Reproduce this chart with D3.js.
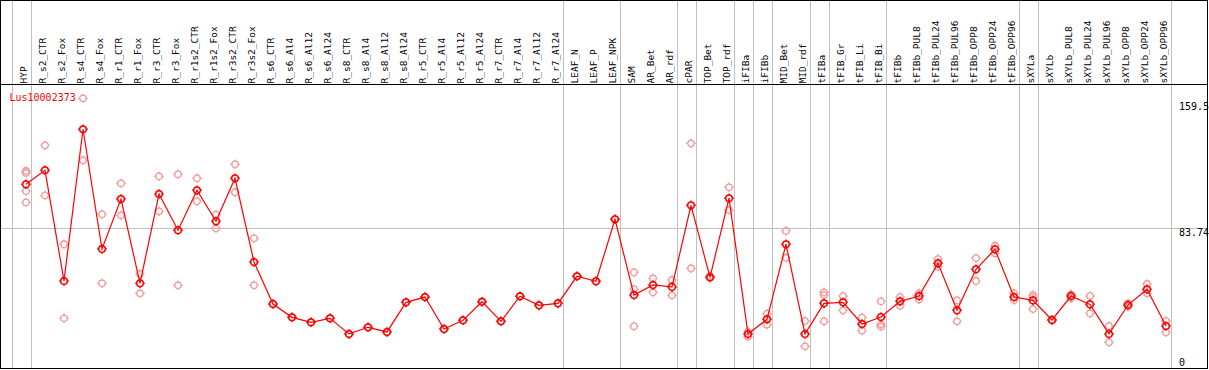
<!DOCTYPE html>
<html>
<head>
<meta charset="utf-8">
<script src="https://cdn.jsdelivr.net/npm/d3@7"></script>
<style>
  body { margin: 0; background: #fff; }
  svg { display: block; }
  text { font-family: "DejaVu Sans Mono", "Liberation Mono", monospace; }
</style>
</head>
<body>
<svg width="1209" height="370"></svg>
<script>
const title = 'Lus10002373';

const categories = [
  'HYP', 'R_s2_CTR', 'R_s2_Fox', 'R_s4_CTR', 'R_s4_Fox', 'R_r1_CTR', 'R_r1_Fox',
  'R_r3_CTR', 'R_r3_Fox', 'R_r1s2_CTR', 'R_r1s2_Fox', 'R_r3s2_CTR', 'R_r3s2_Fox',
  'R_s6_CTR', 'R_s6_Al4', 'R_s6_Al12', 'R_s6_Al24', 'R_s8_CTR', 'R_s8_Al4',
  'R_s8_Al12', 'R_s8_Al24', 'R_r5_CTR', 'R_r5_Al4', 'R_r5_Al12', 'R_r5_Al24',
  'R_r7_CTR', 'R_r7_Al4', 'R_r7_Al12', 'R_r7_Al24', 'LEAF_N', 'LEAF_P', 'LEAF_NPK',
  'SAM', 'AR_Bet', 'AR_rdf', 'cPAR', 'TOP_Bet', 'TOP_rdf', 'iFIBa', 'iFIBb',
  'MID_Bet', 'MID_rdf', 'tFIBa', 'tFIB_Gr', 'tFIB_Li', 'tFIB_Bi', 'tFIBb',
  'tFIBb_PUL8', 'tFIBb_PUL24', 'tFIBb_PUL96', 'tFIBb_OPP8', 'tFIBb_OPP24', 'tFIBb_OPP96',
  'sXYLa', 'sXYLb', 'sXYLb_PUL8', 'sXYLb_PUL24', 'sXYLb_PUL96', 'sXYLb_OPP8',
  'sXYLb_OPP24', 'sXYLb_OPP96'
];

const means = [
  110.3, 118.7, 52.1, 143.4, 71.3, 101.4, 50.7, 104.4, 82.6, 106.7, 88.0, 113.9, 63.5,
  38.2, 30.2, 27.2, 29.6, 20.2, 24.2, 21.4, 39.2, 42.4, 23.2, 28.4, 39.6, 27.8, 42.9,
  37.4, 38.6, 54.9, 51.9, 89.2,
  43.6, 49.7, 48.5, 97.6, 54.3, 101.9, 20.2, 29.0, 74.2, 20.2, 38.6, 39.2, 26.2, 30.4,
  39.8, 43.0, 62.7, 34.4, 59.1, 71.1, 42.4, 40.4, 28.6, 43.0, 38.0, 20.2, 37.6, 47.1, 25.0
];

const replicates = [
  [118.3, 117.1, 106.2, 99.4], [133.7, 103.6], [74.2, 29.6], [162.0, 124.7],
  [92.2, 50.7], [110.9, 91.6], [56.3, 44.7], [115.1, 94.0], [116.3, 49.5],
  [113.9, 100.0], [92.0, 83.8], [122.3, 105.5], [77.8, 49.5],
  [38.2], [30.2], [27.2], [29.6], [20.2], [24.2], [21.4], [39.2], [42.4], [23.2],
  [28.4], [39.6], [27.8], [42.9], [37.4], [38.6], [54.9], [51.9], [89.2],
  [57.3, 47.2, 24.8], [53.7, 45.3], [52.7, 43.5], [134.9, 59.7], [53.9, 55.1],
  [108.5, 94.8], [21.5, 18.5], [32.4, 25.8], [82.2, 66.1], [28.0, 12.8],
  [45.3, 43.6, 27.8], [43.0, 34.4], [30.0, 22.2], [39.8, 26.0, 24.6], [42.4, 37.2],
  [44.7, 41.0], [65.3, 60.7], [40.4, 27.8], [65.9, 52.1], [73.3, 68.7], [44.7, 40.6],
  [43.6, 42.4, 35.2], [28.8, 28.4], [44.1, 41.7], [43.0, 32.6], [25.0, 15.2],
  [38.6, 36.6], [50.3, 44.7], [28.0, 21.2]
];

// first category of each group (a grey separator is drawn before it)
const groupStarts = [
  'HYP', 'R_s2_CTR', 'LEAF_N', 'SAM', 'cPAR', 'TOP_Bet', 'iFIBa', 'iFIBb',
  'MID_Bet', 'tFIBa', 'tFIB_Gr', 'tFIBb', 'sXYLa', 'sXYLb'
];

const yMax = 159.5;
const gridValues = [83.74];
const axisLabels = [159.5, 83.74, 0];

const svg = d3.select('svg'),
  width = +svg.attr('width'),
  height = +svg.attr('height'),
  headerH = 84.5,
  bottom = 368.5,
  right = 1207.5;

const xScale = d3.scalePoint().domain(categories).range([26, 1166]);
const step = xScale.step();
const yScale = d3.scaleLinear().domain([0, yMax]).range([367.5, 102.5]);

const sepX = (c) => xScale(c) - step * 0.75;
const plotRight = xScale(categories[categories.length - 1]) + step * 0.25;

// grey separators and grid
svg.append('g')
  .selectAll('line')
  .data(groupStarts)
  .enter()
  .append('line')
  .attr('x1', (d) => Math.round(sepX(d)) + 0.5)
  .attr('x2', (d) => Math.round(sepX(d)) + 0.5)
  .attr('y1', 0)
  .attr('y2', bottom)
  .attr('stroke', '#c0c0c0');

svg.append('line')
  .attr('x1', Math.round(plotRight) + 0.5)
  .attr('x2', Math.round(plotRight) + 0.5)
  .attr('y1', 0)
  .attr('y2', bottom)
  .attr('stroke', '#c0c0c0');

svg.append('g')
  .selectAll('line')
  .data(gridValues)
  .enter()
  .append('line')
  .attr('x1', 0)
  .attr('x2', right)
  .attr('y1', (d) => Math.round(yScale(d)) + 0.5)
  .attr('y2', (d) => Math.round(yScale(d)) + 0.5)
  .attr('stroke', '#c0c0c0');

// frame
svg.append('rect')
  .attr('x', 0.5)
  .attr('y', 0.5)
  .attr('width', right - 0.5)
  .attr('height', bottom - 0.5)
  .attr('fill', 'none')
  .attr('stroke', '#000');

svg.append('line')
  .attr('x1', 0)
  .attr('x2', right)
  .attr('y1', headerH)
  .attr('y2', headerH)
  .attr('stroke', '#000');

// category labels in header
svg.append('g')
  .selectAll('text')
  .data(categories)
  .enter()
  .append('text')
  .attr('transform', (d) => `translate(${xScale(d) + 0.5},83.5) rotate(-90)`)
  .attr('font-size', '9.5px')
  .attr('fill', '#000')
  .text((d) => d);

// right value labels
svg.append('g')
  .selectAll('text')
  .data(axisLabels)
  .enter()
  .append('text')
  .attr('x', 1179)
  .attr('y', (d) => Math.min(yScale(d) + 7.5, 365.5))
  .attr('font-size', '10px')
  .attr('fill', '#000')
  .text((d) => d);

function marker(sel, r) {
  sel.append('circle').attr('r', r).attr('fill', 'none');
  sel.append('path')
    .attr('d', `M0,${-r - 1.5}V${-r}M0,${r}V${r + 1.5}M${-r - 1.5},0H${-r}M${r},0H${r + 1.5}`)
    .attr('fill', 'none');
}

// replicate points
const reps = [];
categories.forEach((c, i) => replicates[i].forEach((v) => reps.push({ c: c, v: v })));

svg.append('g')
  .attr('stroke', '#f09a9a')
  .attr('stroke-width', 1.3)
  .selectAll('g')
  .data(reps)
  .enter()
  .append('g')
  .attr('transform', (d) => `translate(${xScale(d.c)},${yScale(d.v)})`)
  .call(marker, 3.2);

// mean line
const line = d3.line()
  .x((d, i) => xScale(categories[i]))
  .y((d) => yScale(d));

svg.append('path')
  .datum(means)
  .attr('d', line)
  .attr('fill', 'none')
  .attr('stroke', '#ff0000')
  .attr('stroke-width', 1.2);

svg.append('g')
  .attr('stroke', '#ff0000')
  .attr('stroke-width', 1.5)
  .selectAll('g')
  .data(means)
  .enter()
  .append('g')
  .attr('transform', (d, i) => `translate(${xScale(categories[i])},${yScale(d)})`)
  .call(marker, 3.3);

svg.append('text')
  .attr('x', 9.5)
  .attr('y', 100.5)
  .attr('font-size', '10px')
  .attr('fill', '#ff0000')
  .text(title);
</script>
</body>
</html>
